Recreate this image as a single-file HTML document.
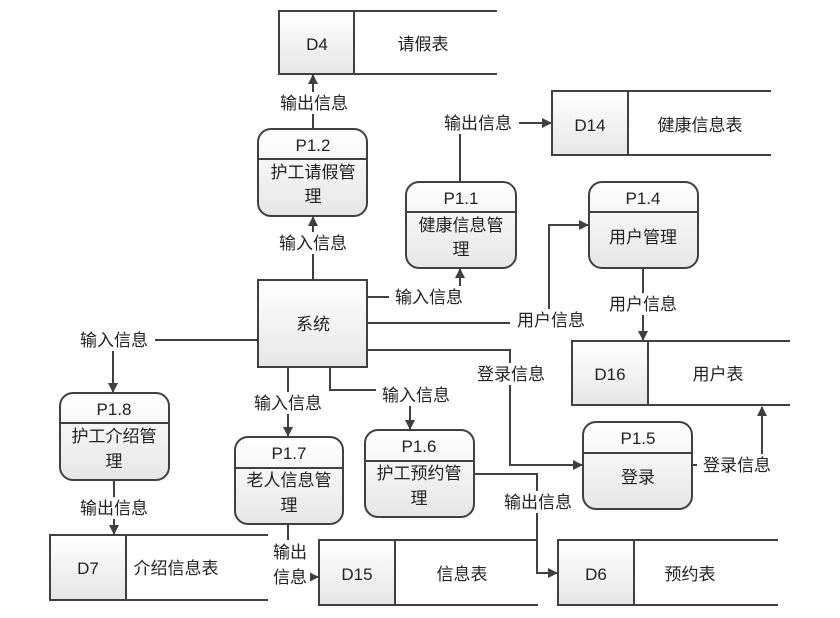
<!DOCTYPE html>
<html><head><meta charset="utf-8"><style>
html,body{margin:0;padding:0;background:#fff;width:840px;height:618px;overflow:hidden}
text{font-family:"Liberation Sans","Noto Sans CJK SC",sans-serif;fill:#222}
</style></head><body>
<svg width="840" height="618" viewBox="0 0 840 618" xmlns="http://www.w3.org/2000/svg">
<defs>
<linearGradient id="g" x1="0" y1="0" x2="0" y2="1"><stop offset="0" stop-color="#ffffff"/><stop offset="1" stop-color="#e6e6e6"/></linearGradient>
<marker id="a" markerWidth="10" markerHeight="10" refX="9" refY="5" orient="auto" markerUnits="userSpaceOnUse"><path d="M0,0 L10,5 L0,10 z" fill="#404040"/></marker>
</defs>
<g stroke="#404040" stroke-width="2" fill="none">
<!-- connectors -->
<path d="M313,129 V75" marker-end="url(#a)"/>
<path d="M460,182 V123 H551" marker-end="url(#a)"/>
<path d="M313,280 V217" marker-end="url(#a)"/>
<path d="M367,297 H460 V269" marker-end="url(#a)"/>
<path d="M367,323 H549 V225 H588" marker-end="url(#a)"/>
<path d="M643,268 V340" marker-end="url(#a)"/>
<path d="M367,350 H510 V465 H582" marker-end="url(#a)"/>
<path d="M692,465 H762 V407" marker-end="url(#a)"/>
<path d="M258,340 H113 V392" marker-end="url(#a)"/>
<path d="M114,480 V534" marker-end="url(#a)"/>
<path d="M288,367 V436" marker-end="url(#a)"/>
<path d="M288,524 V577 H318" marker-end="url(#a)"/>
<path d="M330,367 V390 H410 V429" marker-end="url(#a)"/>
<path d="M474,474 H537 V573 H557" marker-end="url(#a)"/>
</g>
<!-- data stores -->
<g stroke="#404040" stroke-width="2">
<rect x="279" y="11" width="75" height="63" fill="url(#g)"/>
<path d="M279,11 H497 M279,74 H497" fill="none"/>
<rect x="552" y="91" width="76" height="64" fill="url(#g)"/>
<path d="M552,91 H771 M552,155 H771" fill="none"/>
<rect x="572" y="341" width="76" height="64" fill="url(#g)"/>
<path d="M572,341 H790 M572,405 H790" fill="none"/>
<rect x="50" y="535" width="76" height="65" fill="url(#g)"/>
<path d="M50,535 H268 M50,600 H268" fill="none"/>
<rect x="319" y="540" width="76" height="65" fill="url(#g)"/>
<path d="M319,540 H538 M319,605 H538" fill="none"/>
<rect x="558" y="540" width="76" height="65" fill="url(#g)"/>
<path d="M558,540 H778 M558,605 H778" fill="none"/>
<!-- system -->
<rect x="258" y="280" width="109" height="87" fill="url(#g)"/>
<!-- processes -->
<rect x="258" y="129" width="109" height="87" rx="13" fill="url(#g)"/><path d="M258,159 H367"/>
<rect x="406" y="182" width="110" height="86" rx="13" fill="url(#g)"/><path d="M406,212 H516"/>
<rect x="589" y="182" width="109" height="86" rx="13" fill="url(#g)"/><path d="M589,212 H698"/>
<rect x="583" y="422" width="109" height="87" rx="13" fill="url(#g)"/><path d="M583,453 H692"/>
<rect x="60" y="393" width="109" height="87" rx="13" fill="url(#g)"/><path d="M60,423 H169"/>
<rect x="235" y="437" width="108" height="87" rx="13" fill="url(#g)"/><path d="M235,468 H343"/>
<rect x="365" y="430" width="109" height="87" rx="13" fill="url(#g)"/><path d="M365,461 H474"/>
</g>
<!-- label backgrounds -->
<g fill="#fff">
<rect x="275" y="92" width="78" height="22"/>
<rect x="437" y="112" width="82" height="22"/>
<rect x="273" y="232" width="80" height="22"/>
<rect x="389" y="286" width="80" height="22"/>
<rect x="510" y="309" width="82" height="22"/>
<rect x="603" y="293" width="80" height="22"/>
<rect x="470" y="363" width="82" height="22"/>
<rect x="697" y="454" width="80" height="22"/>
<rect x="73" y="329" width="82" height="22"/>
<rect x="73" y="497" width="82" height="22"/>
<rect x="247" y="392" width="82" height="22"/>
<rect x="376" y="384" width="80" height="22"/>
<rect x="270" y="540" width="40" height="48"/>
<rect x="497" y="491" width="82" height="22"/>
</g>
<g font-size="17" text-anchor="middle">
<text x="317" y="50">D4</text><text x="423" y="50">请假表</text>
<text x="590" y="131">D14</text><text x="700" y="131">健康信息表</text>
<text x="610" y="380">D16</text><text x="718" y="380">用户表</text>
<text x="88" y="574">D7</text><text x="176" y="574">介绍信息表</text>
<text x="357" y="580">D15</text><text x="462" y="580">信息表</text>
<text x="596" y="580">D6</text><text x="690" y="580">预约表</text>
<text x="313" y="330">系统</text>
<text x="313" y="151">P1.2</text><text x="313" y="178">护工请假管</text><text x="313" y="202">理</text>
<text x="461" y="204">P1.1</text><text x="461" y="231">健康信息管</text><text x="461" y="255">理</text>
<text x="643" y="204">P1.4</text><text x="643" y="243">用户管理</text>
<text x="638" y="444">P1.5</text><text x="638" y="483">登录</text>
<text x="114" y="415">P1.8</text><text x="114" y="442">护工介绍管</text><text x="114" y="467">理</text>
<text x="289" y="459">P1.7</text><text x="289" y="486">老人信息管</text><text x="289" y="511">理</text>
<text x="419" y="452">P1.6</text><text x="419" y="479">护工预约管</text><text x="419" y="504">理</text>
<text x="314" y="109">输出信息</text>
<text x="478" y="129">输出信息</text>
<text x="313" y="249">输入信息</text>
<text x="429" y="303">输入信息</text>
<text x="551" y="326">用户信息</text>
<text x="643" y="310">用户信息</text>
<text x="511" y="380">登录信息</text>
<text x="737" y="471">登录信息</text>
<text x="114" y="346">输入信息</text>
<text x="114" y="514">输出信息</text>
<text x="288" y="409">输入信息</text>
<text x="416" y="401">输入信息</text>
<text x="290" y="558">输出</text><text x="290" y="583">信息</text>
<text x="538" y="508">输出信息</text>
</g>
</svg>
</body></html>
